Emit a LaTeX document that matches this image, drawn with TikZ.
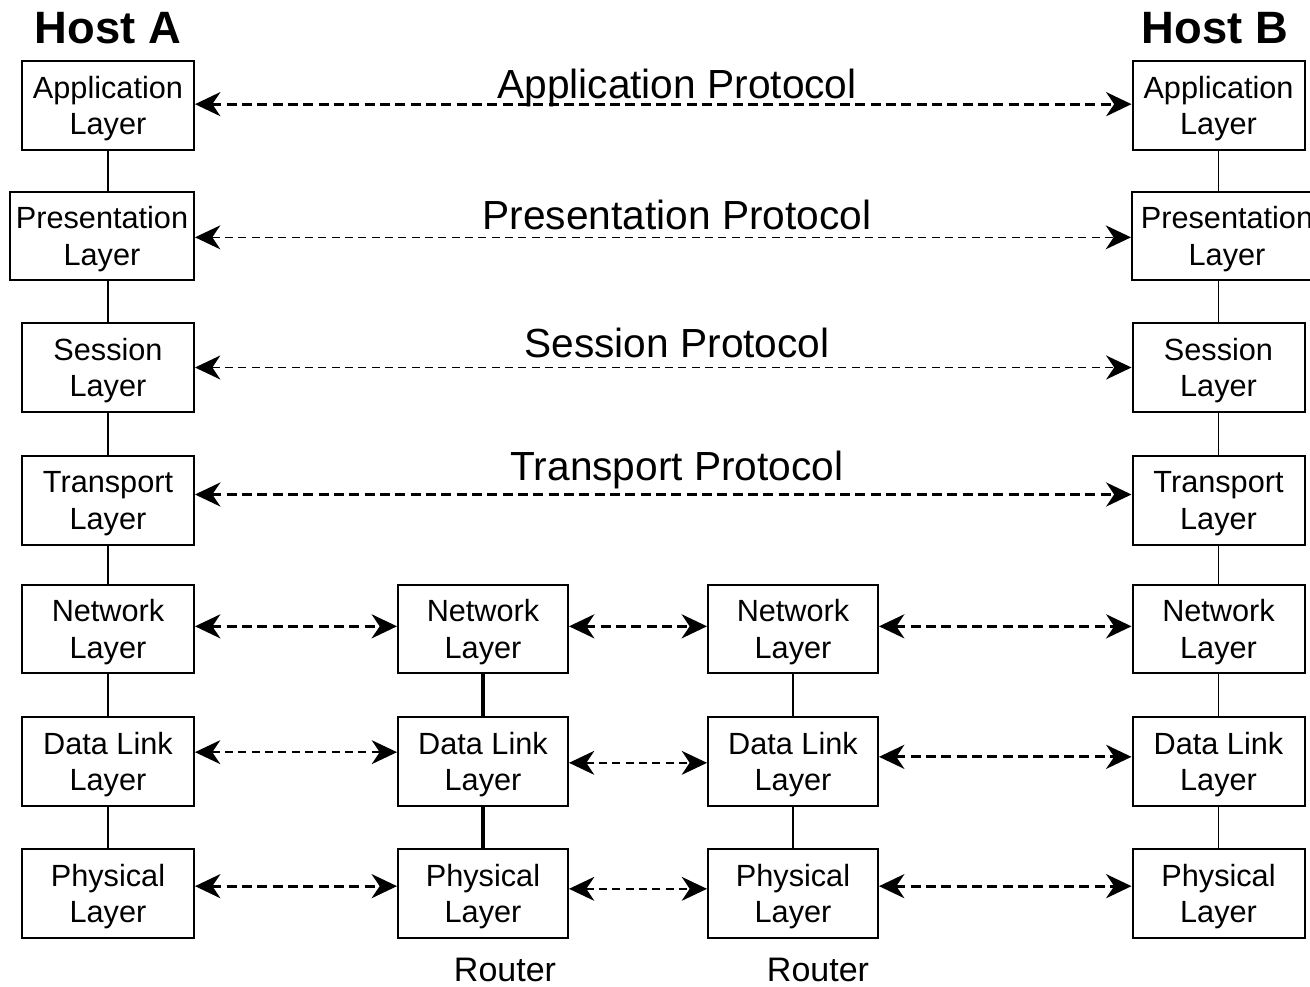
\documentclass[tikz,border=0pt]{standalone}
\usepackage{fontspec}
\setmainfont{Liberation Sans}
\usetikzlibrary{arrows.meta}
\begin{document}
\begin{tikzpicture}[x=0.75pt,y=-0.75pt,
  layerbox/.style={draw, line width=1.5pt, inner sep=0pt, align=center,
    font=\fontsize{23}{27.5}\selectfont, minimum height=66.5pt, text depth=0pt},
  hostbox/.style={layerbox, minimum width=129pt},
  routerbox/.style={layerbox, minimum width=127.5pt},
  proto/.style={font=\fontsize{30.5}{36}\selectfont, inner sep=0pt},
  title/.style={font=\fontsize{34}{40}\selectfont\bfseries, inner sep=0pt},
  routerlabel/.style={font=\fontsize{25.5}{30}\selectfont, inner sep=0pt},
  link/.style={line width=1.1pt},
  thicklink/.style={line width=2.4pt},
  peer/.style={<->, >={Stealth[length=19pt,width=18pt,inset=6pt]}},
  thickdash/.style={peer, line width=2.3pt, dash pattern=on 7.5pt off 4pt},
  thindash/.style={peer, line width=1.1pt, dash pattern=on 6pt off 4pt}]
\useasboundingbox (0,0) rectangle (1310,987);

% titles
\node[title] (hA) at (108,28) {Host A};
\node[title] (hB) at (1215,28) {Host B};

% Host A
\node[hostbox] (A1) at (108,105.5) {Application\\Layer};
\node[layerbox, minimum width=138pt] (A2) at (102,236) {Presentation\\Layer};
\node[hostbox] (A3) at (108,367.5) {Session\\Layer};
\node[hostbox] (A4) at (108,500.5) {Transport\\Layer};
\node[hostbox] (A5) at (108,629) {Network\\Layer};
\node[hostbox] (A6) at (108,761.5) {Data Link\\Layer};
\node[hostbox] (A7) at (108,893.5) {Physical\\Layer};

% Host B
\node[hostbox] (B1) at (1218.5,105.5) {Application\\Layer};
\node[layerbox, minimum width=142.5pt] (B2) at (1227,236) {Presentation\\Layer};
\node[hostbox] (B3) at (1218.5,367.5) {Session\\Layer};
\node[hostbox] (B4) at (1218.5,500.5) {Transport\\Layer};
\node[hostbox] (B5) at (1218.5,629) {Network\\Layer};
\node[hostbox] (B6) at (1218.5,761.5) {Data Link\\Layer};
\node[hostbox] (B7) at (1218.5,893.5) {Physical\\Layer};

% Routers
\node[routerbox] (R1n) at (483,629) {Network\\Layer};
\node[routerbox] (R1d) at (483,761.5) {Data Link\\Layer};
\node[routerbox] (R1p) at (483,893.5) {Physical\\Layer};
\node[routerbox] (R2n) at (793,629) {Network\\Layer};
\node[routerbox] (R2d) at (793,761.5) {Data Link\\Layer};
\node[routerbox] (R2p) at (793,893.5) {Physical\\Layer};
\node[routerlabel] (r1) at (505,970) {Router};
\node[routerlabel] (r2) at (818,970) {Router};

% vertical links
\foreach \u/\l in {A1/A2,A2/A3,A3/A4,A4/A5,A5/A6,A6/A7}
  \draw[link] (\u.south -| A1.south) -- (\l.north -| A1.south);
\foreach \u/\l in {B1/B2,B2/B3,B3/B4,B4/B5,B5/B6,B6/B7}
  \draw[link] (\u.south -| B1.south) -- (\l.north -| B1.south);
\draw[thicklink] (R1n.south) -- (R1d.north);
\draw[thicklink] (R1d.south) -- (R1p.north);
\draw[link] (R2n.south) -- (R2d.north);
\draw[link] (R2d.south) -- (R2p.north);

% protocol labels
\node[proto] (pa) at (677,88) {Application Protocol};
\node[proto] (pp) at (677,215) {Presentation Protocol};
\node[proto] (ps) at (677,343) {Session Protocol};
\node[proto] (pt) at (677,470) {Transport Protocol};

% peer arrows
\draw[thickdash] ([yshift=1pt]A1.east) -- ([yshift=1pt]B1.west);
\draw[thindash] ([yshift=-1pt]A2.east) -- ([yshift=-1pt]A2.east -| B2.west);
\draw[thindash] (A3.east) -- (B3.west);
\draw[thickdash] ([yshift=4.5pt]A4.east) -- ([yshift=4.5pt]B4.west);

\draw[thickdash] ([yshift=2pt]A5.east) -- ([yshift=2pt]R1n.west);
\draw[thickdash] ([yshift=2pt]R1n.east) -- ([yshift=2pt]R2n.west);
\draw[thickdash] ([yshift=2pt]R2n.east) -- ([yshift=2pt]B5.west);

\draw[thindash] ([yshift=7pt]A6.east) -- ([yshift=7pt]R1d.west);
\draw[thindash] ([yshift=-1pt]R1d.east) -- ([yshift=-1pt]R2d.west);
\draw[thickdash] ([yshift=3.5pt]R2d.east) -- ([yshift=3.5pt]B6.west);

\draw[thickdash] ([yshift=5.5pt]A7.east) -- ([yshift=5.5pt]R1p.west);
\draw[thindash] ([yshift=3.5pt]R1p.east) -- ([yshift=3.5pt]R2p.west);
\draw[thickdash] ([yshift=5.5pt]R2p.east) -- ([yshift=5.5pt]B7.west);
\end{tikzpicture}
\end{document}
